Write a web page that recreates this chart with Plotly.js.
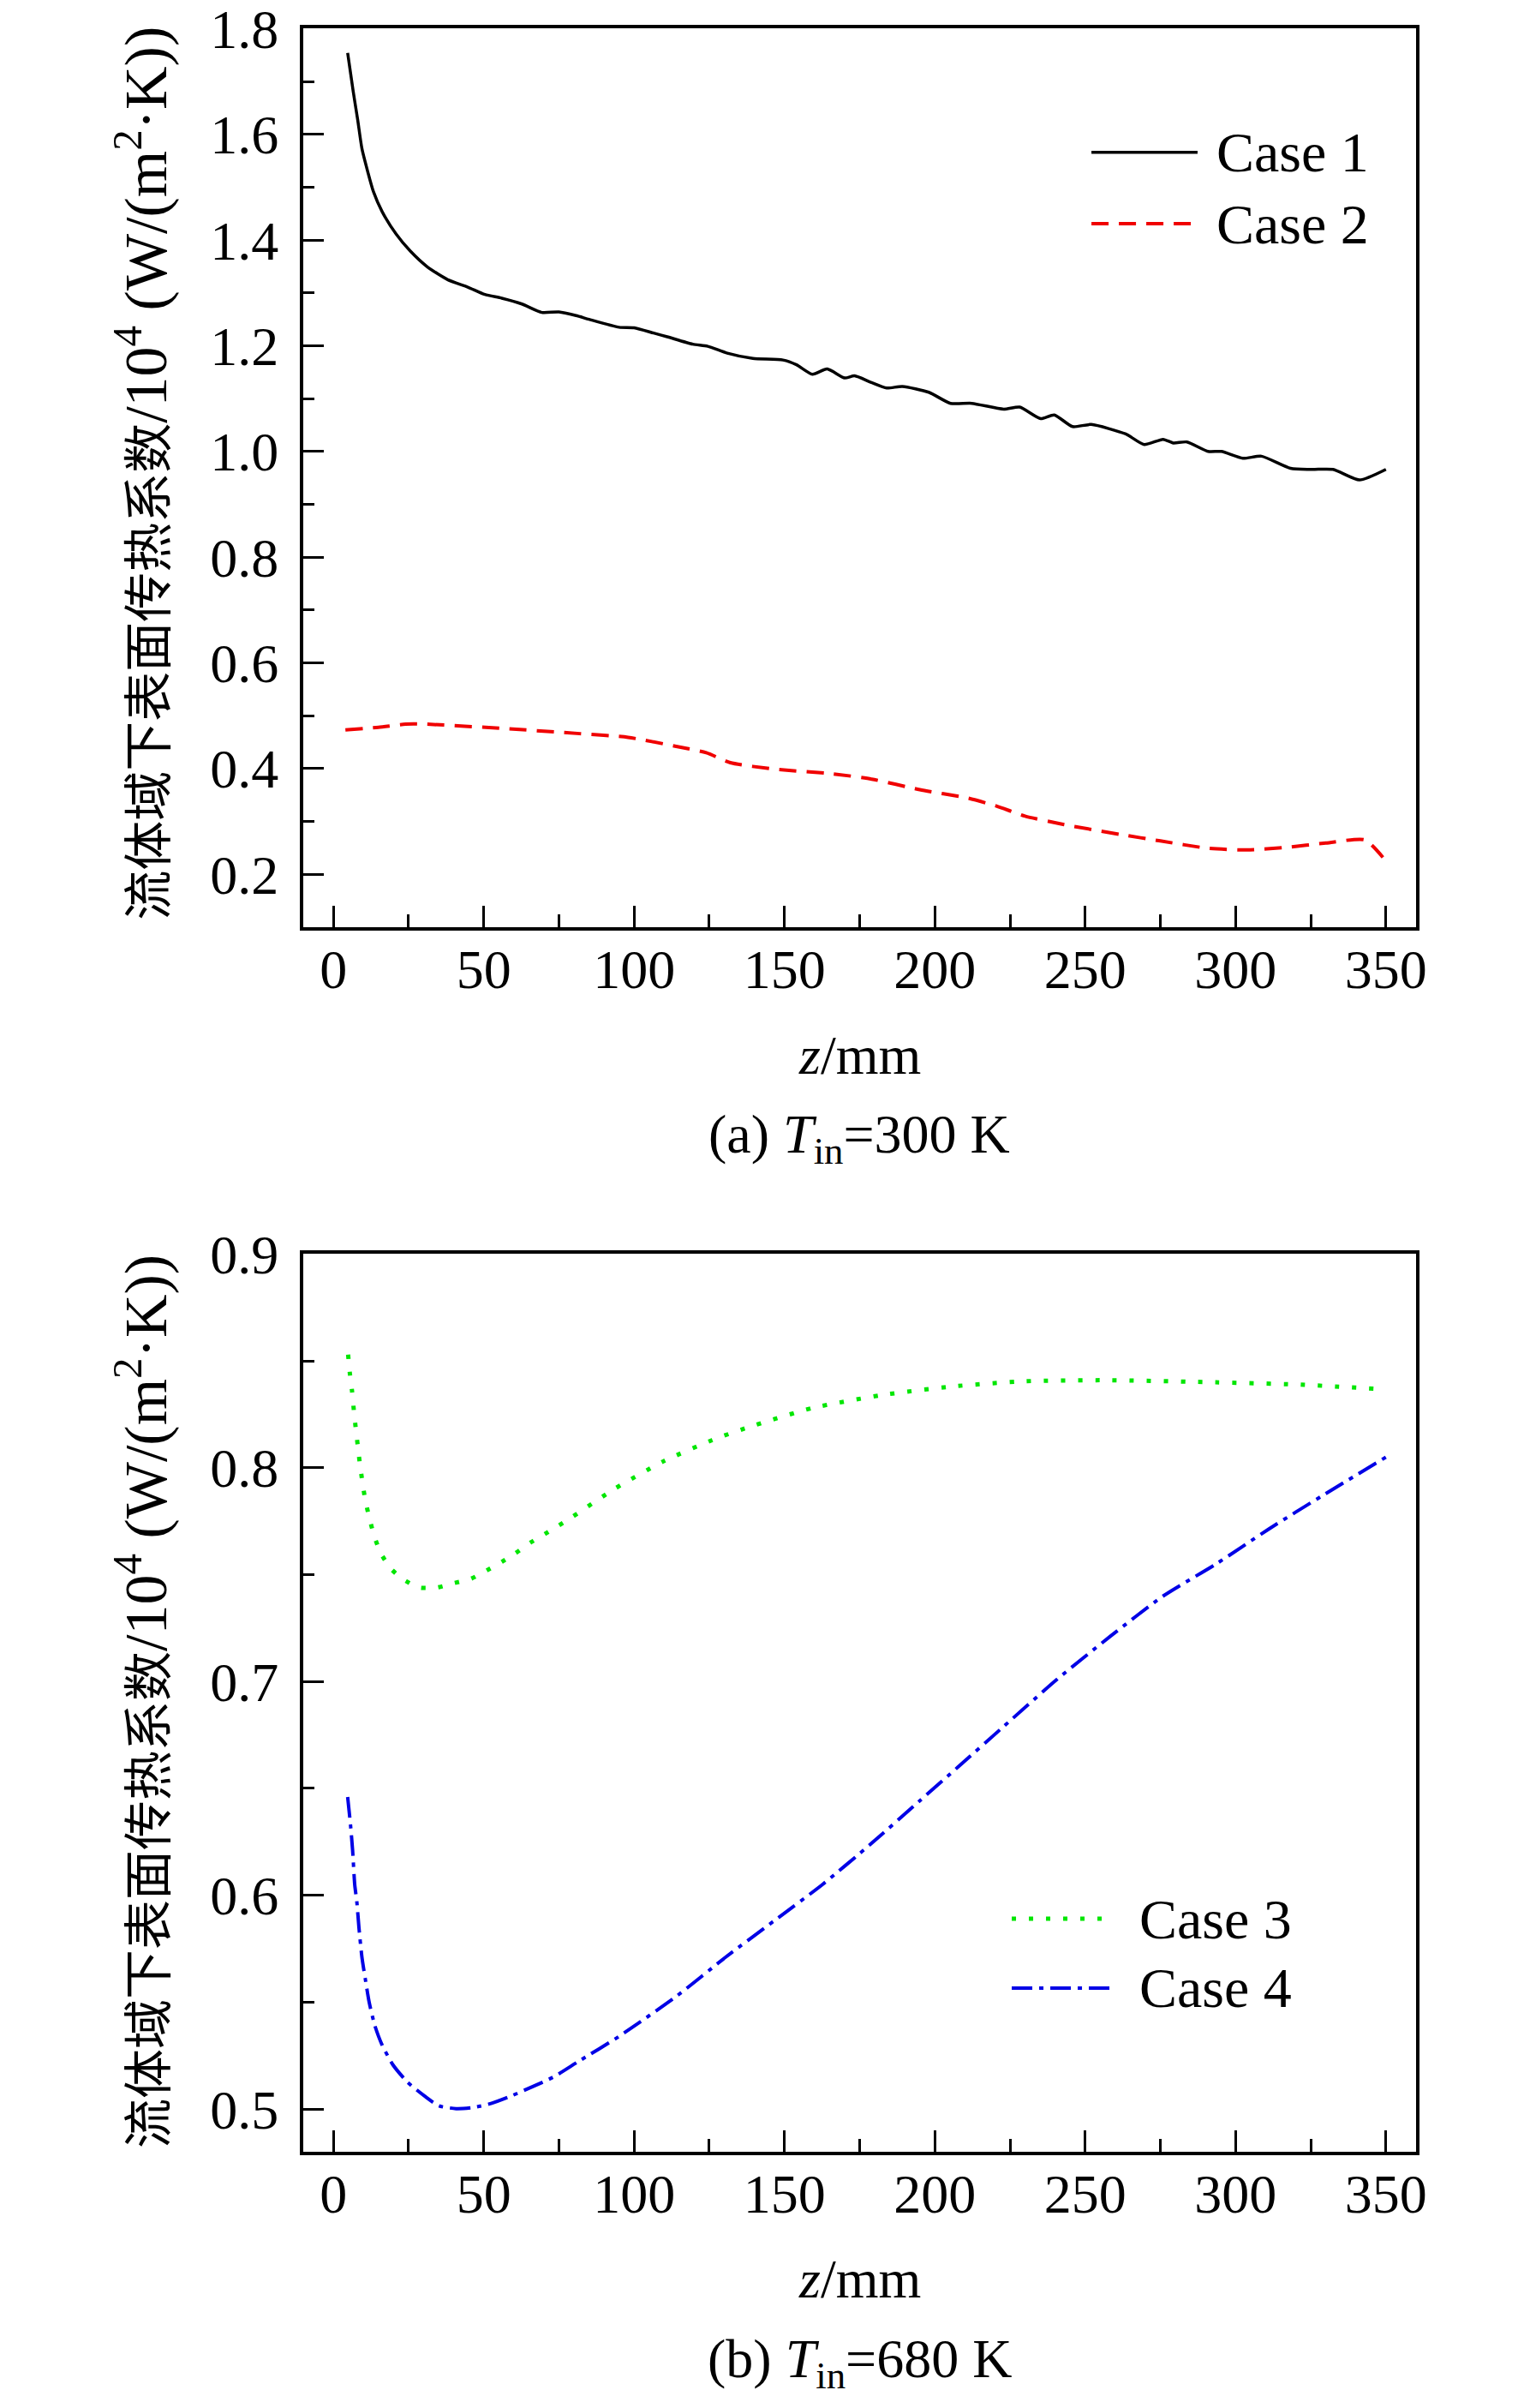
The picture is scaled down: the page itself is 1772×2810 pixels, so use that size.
<!DOCTYPE html>
<html>
<head>
<meta charset="utf-8">
<script src="https://cdn.plot.ly/plotly-3.0.1.min.js"></script>
<style>
  body { margin: 0; background: #fff; }
  #chart { width: 1772px; height: 2810px; }
</style>
</head>
<body>
<div id="chart"></div>
<script>
// (a) Tin = 300 K
const case1Z = [4.75, 6.6, 8.1, 9.5, 11.4, 13.3, 16.2, 20.9, 25.6, 31.3, 38, 44.7, 50.4, 56, 62.7, 69.3, 75, 80.7, 85, 95, 100, 106.5, 111, 119.5, 124.5, 131, 139.5, 149.5, 154, 159.3, 164.2, 170, 173.3, 178.7, 184, 189.2, 198, 205.2, 212.3, 222.9, 228.2, 235.2, 239.7, 245.8, 252, 263.5, 269.6, 275.9, 279.3, 283.8, 290.9, 295.3, 302.4, 308.6, 318.3, 325.4, 332.4, 341.2, 350];
const case1V = [1.754, 1.681, 1.627, 1.573, 1.530, 1.492, 1.454, 1.411, 1.379, 1.349, 1.325, 1.311, 1.297, 1.290, 1.279, 1.263, 1.264, 1.257, 1.250, 1.235, 1.234, 1.224, 1.217, 1.203, 1.199, 1.186, 1.176, 1.173, 1.164, 1.146, 1.156, 1.139, 1.143, 1.131, 1.120, 1.123, 1.112, 1.091, 1.091, 1.080, 1.084, 1.062, 1.069, 1.047, 1.051, 1.033, 1.013, 1.023, 1.016, 1.018, 1.000, 1.000, 0.987, 0.991, 0.968, 0.966, 0.966, 0.946, 0.966];

const case2Z = [4, 15, 24, 30.5, 56, 82, 98, 114, 124, 132, 146.5, 166, 179, 195, 211, 220.5, 230, 243, 262, 275, 291, 304, 317, 330, 343, 349];
const case2V = [0.473, 0.478, 0.484, 0.484, 0.476, 0.466, 0.459, 0.442, 0.430, 0.411, 0.399, 0.390, 0.380, 0.360, 0.344, 0.329, 0.310, 0.294, 0.275, 0.263, 0.249, 0.246, 0.251, 0.259, 0.265, 0.232];

// (b) Tin = 680 K
const case3Z = [4.9, 5.5, 6.2, 6.8, 7.4, 8.1, 8.8, 9.7, 10.6, 11.9, 13.6, 15.8, 19.0, 23.0, 28.5, 34.4, 39.9, 45.6, 51.0, 56.0, 60.5, 65.5, 70.3, 74.9, 79.4, 93.3, 109.7, 126, 138, 159.3, 182.2, 205.2, 230, 258, 293.5, 320, 346.5];
const case3V = [0.853, 0.844, 0.836, 0.827, 0.819, 0.8105, 0.802, 0.793, 0.785, 0.777, 0.768, 0.760, 0.753, 0.748, 0.744, 0.744, 0.746, 0.748, 0.752, 0.756, 0.760, 0.765, 0.769, 0.773, 0.777, 0.790, 0.803, 0.813, 0.819, 0.828, 0.834, 0.838, 0.8405, 0.841, 0.840, 0.839, 0.837];

const case4Z = [4.75, 5.7, 6.4, 7.1, 7.8, 8.5, 9.5, 10.6, 11.9, 13.8, 16.2, 19.9, 24.7, 30.4, 35.1, 40.8, 46.5, 52.2, 58.9, 65.5, 73.2, 81.2, 95, 114.3, 130.4, 146.5, 162.6, 178.7, 194.8, 207.7, 222.9, 240.6, 258.2, 275.9, 293.5, 311.2, 328.9, 350];
const case4V = [0.646, 0.633, 0.621, 0.605, 0.597, 0.585, 0.571, 0.561, 0.550, 0.539, 0.530, 0.5205, 0.5125, 0.506, 0.5015, 0.5002, 0.5007, 0.5025, 0.506, 0.510, 0.515, 0.522, 0.534, 0.553, 0.571, 0.588, 0.605, 0.624, 0.644, 0.660, 0.679, 0.701, 0.721, 0.740, 0.755, 0.7715, 0.787, 0.805];

const seriesNames = ['Case 1', 'Case 2', 'Case 3', 'Case 4'];
const yTitle = '流体域下表面传热系数<span style="font-size:70px">/10<sup>4</sup> (W/(m<sup>2</sup>·K))</span>';
const xTitle = '<i>z</i>/mm';
const captions = ['(a) <i>T</i><sub>in</sub>=300 K', '(b) <i>T</i><sub>in</sub>=680 K'];

const FONT = '"Liberation Serif", "Noto Sans CJK SC", serif';

const styles = [
    {color: 'rgb(0,0,0)', width: 3.5, dash: 'solid'},
    {color: 'rgb(240,0,0)', width: 4, dash: '20px,12px'},
    {color: 'rgb(0,230,0)', width: 5, dash: '5px,15px'},
    {color: 'rgb(0,0,230)', width: 4, dash: '24px,8px,5px,8px'}
];

let data = [
    {x: case1Z, y: case1V, xaxis: 'x', yaxis: 'y'},
    {x: case2Z, y: case2V, xaxis: 'x', yaxis: 'y'},
    {x: case3Z, y: case3V, xaxis: 'x2', yaxis: 'y2'},
    {x: case4Z, y: case4V, xaxis: 'x2', yaxis: 'y2'}
].map(function (tr, i) {
    tr.type = 'scatter';
    tr.mode = 'lines';
    tr.name = seriesNames[i];
    tr.line = {color: styles[i].color, width: styles[i].width, dash: styles[i].dash, shape: 'spline', smoothing: 0.6};
    tr.showlegend = false;
    return tr;
});

function xAxis(anchor) {
    return {
        domain: [0.1998, 0.9328],
        anchor: anchor,
        range: [-10, 360],
        tickvals: [0, 50, 100, 150, 200, 250, 300, 350],
        ticks: 'inside', ticklen: 25, tickwidth: 3, tickcolor: '#000',
        minor: {ticks: 'inside', ticklen: 15, tickwidth: 3, tickcolor: '#000', tickvals: [25, 75, 125, 175, 225, 275, 325]},
        showline: true, linewidth: 4, linecolor: '#000', mirror: true,
        showgrid: false, zeroline: false,
        ticklabelstandoff: -10,
        ticklabeloverflow: 'allow',
        tickfont: {family: FONT, size: 64, color: '#000'}
    };
}

function yAxis(domain, anchor, range, major, minor) {
    return {
        domain: domain,
        anchor: anchor,
        range: range,
        tickvals: major,
        tickformat: '.1f',
        ticks: 'inside', ticklen: 24, tickwidth: 3, tickcolor: '#000',
        minor: {ticks: 'inside', ticklen: 13, tickwidth: 3, tickcolor: '#000', tickvals: minor},
        showline: true, linewidth: 4, linecolor: '#000', mirror: true,
        showgrid: false, zeroline: false,
        ticklabelstandoff: 12,
        ticklabeloverflow: 'allow',
        tickfont: {family: FONT, size: 64, color: '#000'}
    };
}

// legend drawn by hand so the line samples keep the long length of the original
function legendItems(items, x0, x1, xt, ys) {
    let shapes = [], notes = [];
    items.forEach(function (idx, k) {
        shapes.push({type: 'line', xref: 'paper', yref: 'paper', x0: x0, x1: x1, y0: ys[k], y1: ys[k],
            line: {color: styles[idx].color, width: styles[idx].width, dash: styles[idx].dash}});
        notes.push({xref: 'paper', yref: 'paper', x: xt, y: ys[k], xanchor: 'left', yanchor: 'middle',
            text: seriesNames[idx], showarrow: false, font: {family: FONT, size: 66, color: '#000'}});
    });
    return {shapes: shapes, notes: notes};
}

const legTop = legendItems([0, 1], 0.7190, 0.7889, 0.8000, [0.9367, 0.9071]);
const legBot = legendItems([2, 3], 0.6665, 0.7331, 0.7495, [0.2032, 0.1744]);

function note(text, x, y, size, angle) {
    return {xref: 'paper', yref: 'paper', x: x, y: y, xanchor: 'center', yanchor: 'middle',
        text: text, showarrow: false, textangle: angle || 0, font: {family: FONT, size: size, color: '#000'}};
}

let layout = {
    width: 1772,
    height: 2810,
    margin: {l: 0, r: 0, t: 0, b: 0},
    paper_bgcolor: '#fff',
    plot_bgcolor: '#fff',
    showlegend: false,
    xaxis: xAxis('y'),
    yaxis: yAxis([0.6150, 0.9881], 'x', [0.1, 1.8],
        [0.2, 0.4, 0.6, 0.8, 1.0, 1.2, 1.4, 1.6, 1.8],
        [0.1, 0.3, 0.5, 0.7, 0.9, 1.1, 1.3, 1.5, 1.7]),
    xaxis2: xAxis('y2'),
    yaxis2: yAxis([0.1064, 0.4792], 'x2', [0.48, 0.9],
        [0.5, 0.6, 0.7, 0.8, 0.9],
        [0.55, 0.65, 0.75, 0.85]),
    shapes: legTop.shapes.concat(legBot.shapes),
    annotations: [
        note(yTitle, 0.0931, 0.8036, 58, -90),
        note(yTitle, 0.0931, 0.2936, 58, -90),
        note(xTitle, 0.5663, 0.5619, 64),
        note(xTitle, 0.5663, 0.0535, 64),
        note(captions[0], 0.5663, 0.5274, 64),
        note(captions[1], 0.5663, 0.0189, 64)
    ].concat(legTop.notes, legBot.notes)
};

Plotly.newPlot('chart', data, layout, {staticPlot: true});
</script>
</body>
</html>
